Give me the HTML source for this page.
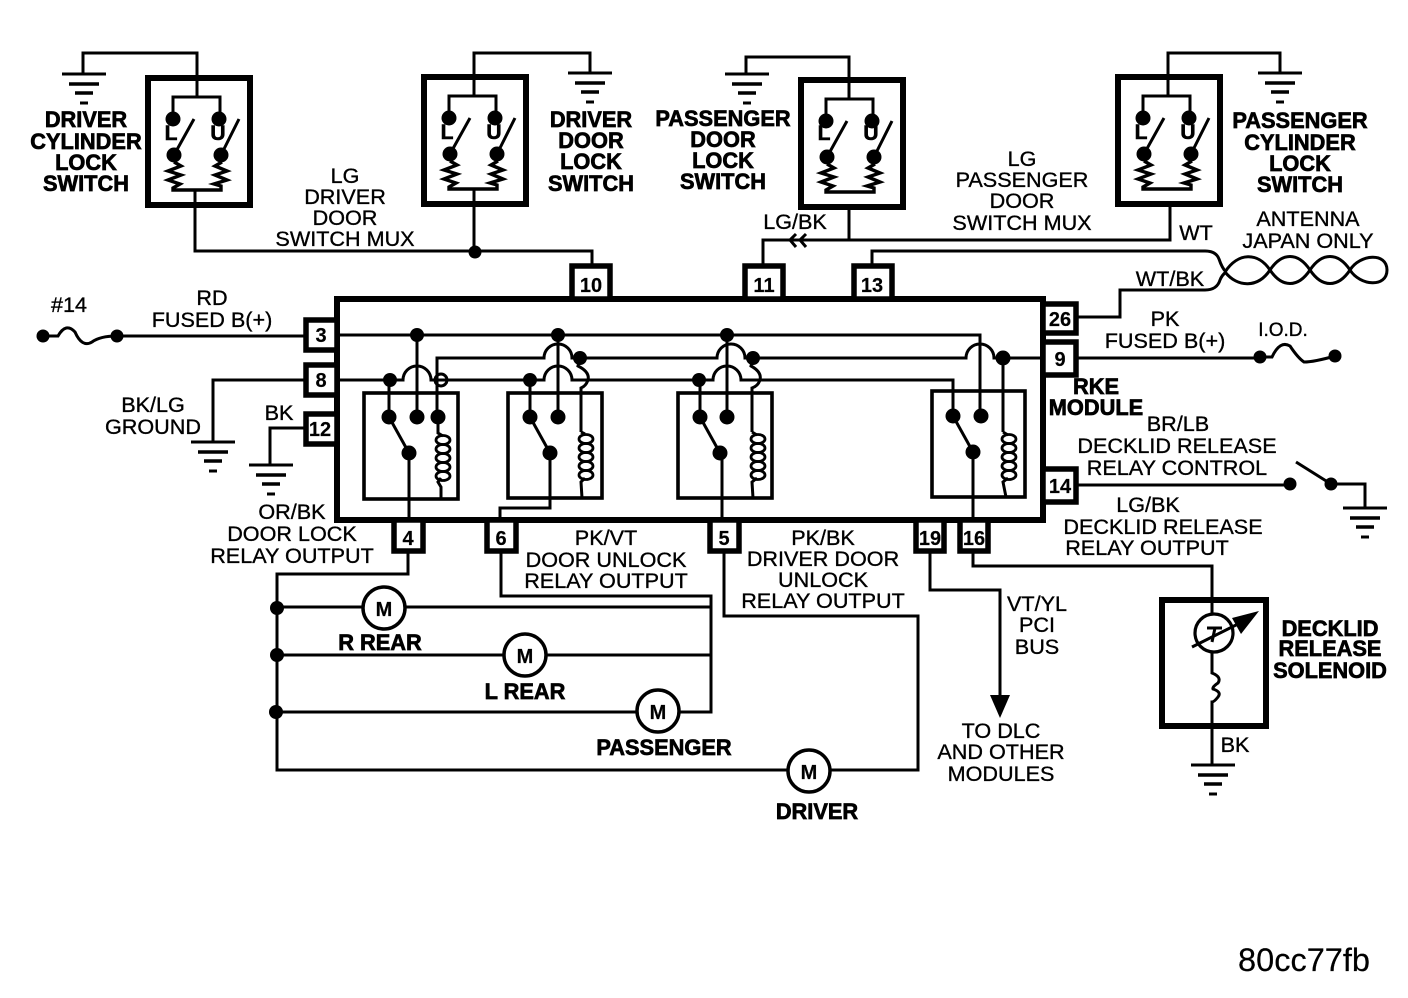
<!DOCTYPE html>
<html><head><meta charset="utf-8"><style>
html,body{margin:0;padding:0;background:#fff;width:1408px;height:998px;overflow:hidden}
svg{display:block}
text{font-family:"Liberation Sans",sans-serif;fill:#000;text-anchor:middle;font-size:21.6px;stroke:#000;stroke-width:.35px}
.b{font-weight:bold;font-size:21.8px;stroke-width:.7px}
.n{font-weight:bold;font-size:20px;stroke-width:.2px}
.lu{font-weight:bold;font-size:21px;stroke-width:.6px}
.w{fill:none;stroke:#000;stroke-width:3;stroke-linejoin:miter}
.t{fill:none;stroke:#000;stroke-width:6}
.r{fill:none;stroke:#000;stroke-width:3.6}
circle.d{fill:#000}
</style></head><body>
<svg width="1408" height="998" viewBox="0 0 1408 998" xmlns="http://www.w3.org/2000/svg">
<defs>
<g id="gnd"><path d="M-22 0H22" stroke="#000" stroke-width="3"/><path d="M-15 10H15" stroke="#000" stroke-width="3.4"/><path d="M-9 19H9" stroke="#000" stroke-width="3.4"/><path d="M-4 29H4" stroke="#000" stroke-width="3"/></g>
<g id="sw">
<rect x="0" y="0" width="102" height="127" class="t"/>
<path class="w" d="M25 34V19H72V34"/>
<circle class="d" cx="25" cy="41" r="7.5"/><circle class="d" cx="71" cy="41" r="7.5"/>
<circle class="d" cx="26" cy="77" r="7.5"/><circle class="d" cx="73" cy="77" r="7.5"/>
<path class="w" d="M26 77L46 41M73 77L91 41"/>
<path d="M26 84L33 88L20 93L33 97L20 102L32 106L25 110V112H73V108L66 106L79 102L67 97L79 93L67 88L74 84" fill="none" stroke="#000" stroke-width="3.4"/>
</g>
<g id="coil" fill="none" stroke="#000" stroke-width="2.8">
<ellipse cx="0" cy="4" rx="7" ry="4.5"/><ellipse cx="0" cy="13" rx="7" ry="4.5"/><ellipse cx="0" cy="22" rx="7" ry="4.5"/><ellipse cx="0" cy="31" rx="7" ry="4.5"/><ellipse cx="0" cy="40" rx="7" ry="4.5"/>
</g>
<g id="relay">
<circle class="d" cx="0" cy="0" r="7.5"/><circle class="d" cx="20" cy="36" r="7.5"/>
<path class="w" d="M0 0L20 36"/>
</g>
</defs>

<!-- switches -->
<use href="#sw" x="148" y="78"/><use href="#sw" x="424" y="77"/><use href="#sw" x="801" y="80"/><use href="#sw" x="1118" y="77"/>
<text class="lu" x="171" y="140">L</text><text class="lu" x="218" y="140">U</text>
<text class="lu" x="447" y="139">L</text><text class="lu" x="494" y="139">U</text>
<text class="lu" x="824" y="140">L</text><text class="lu" x="871" y="140">U</text>
<text class="lu" x="1141" y="139">L</text><text class="lu" x="1188" y="139">U</text>

<!-- ground wires top -->
<path class="w" d="M83 74V53H197V97"/><use href="#gnd" x="84" y="74"/>
<path class="w" d="M474 96V53H590V73"/><use href="#gnd" x="590" y="73"/>
<path class="w" d="M849 99V57H746V74"/><use href="#gnd" x="747" y="74"/>
<path class="w" d="M1168 96V53H1280V73"/><use href="#gnd" x="1280" y="73"/>

<!-- top wires -->
<path class="w" d="M195 190V251H592V265"/>
<path class="w" d="M474 189V251"/><circle class="d" cx="475" cy="252" r="6.5"/>
<path class="w" d="M849 204V241"/>
<path class="w" d="M1170 204V240H763V266"/>
<path class="w" d="M796 234L790 240L796 247M806 234L800 240L806 247"/>
<path class="w" d="M872 266V251H1205Q1216 251 1219 259Q1222 268 1226 272"/>
<path class="w" d="M1078 317H1120V290H1205Q1217 290 1220 280Q1222 275 1226 272"/>
<!-- antenna -->
<path class="w" d="M1225 272C1238 252 1258 252 1270 270C1282 288 1298 288 1310 270C1322 252 1338 252 1350 270C1360 286 1387 288 1387 270C1387 252 1360 254 1350 270C1338 288 1322 288 1310 270C1298 252 1282 252 1270 270C1258 288 1238 288 1225 272"/>

<!-- module -->
<rect x="337" y="299" width="706" height="221" class="t"/>

<!-- connector boxes -->
<g fill="#fff" stroke="#000" stroke-width="5.5">
<rect x="572" y="266" width="38" height="33"/><rect x="745" y="266" width="38" height="33"/><rect x="854" y="266" width="38" height="33"/>
<rect x="306" y="320" width="31" height="30"/><rect x="306" y="365" width="31" height="30"/><rect x="306" y="414" width="31" height="30"/>
<rect x="1043" y="304" width="33" height="29"/><rect x="1043" y="342" width="33" height="33"/><rect x="1043" y="469" width="33" height="33"/>
<rect x="394" y="520" width="29" height="31"/><rect x="487" y="520" width="29" height="31"/><rect x="710" y="520" width="29" height="31"/><rect x="916" y="520" width="28" height="31"/><rect x="960" y="520" width="28" height="31"/>
</g>
<g>
<text class="n" x="591" y="292">10</text><text class="n" x="764" y="292">11</text><text class="n" x="872" y="292">13</text>
<text class="n" x="321" y="342">3</text><text class="n" x="321" y="387">8</text><text class="n" x="320" y="436">12</text>
<text class="n" x="1060" y="326">26</text><text class="n" x="1060" y="366">9</text><text class="n" x="1060" y="493">14</text>
<text class="n" x="408" y="545">4</text><text class="n" x="501" y="545">6</text><text class="n" x="724" y="545">5</text><text class="n" x="930" y="545">19</text><text class="n" x="974" y="545">16</text>
</g>

<!-- relay boxes -->
<rect x="364" y="393" width="94" height="106" class="r"/>
<rect x="508" y="393" width="94" height="105" class="r"/>
<rect x="678" y="393" width="94" height="105" class="r"/>
<rect x="932" y="391" width="93" height="106" class="r"/>

<!-- inner rails -->
<path class="w" d="M337 335H980V416"/>
<circle class="d" cx="417" cy="335" r="7"/><circle class="d" cx="558" cy="335" r="7"/><circle class="d" cx="727" cy="335" r="7"/>
<path class="w" d="M417 335V417M558 335V417M727 335V417"/>
<path class="w" d="M1043 358H994A14 14 0 0 0 966 358H745A14 14 0 0 0 717 358H572A14 14 0 0 0 544 358H437V417"/>
<path class="w" d="M1003 358V432"/>
<circle class="d" cx="1003" cy="358" r="7.5"/>
<circle class="d" cx="753" cy="358" r="7"/><circle class="d" cx="580" cy="358" r="7"/>
<path class="w" d="M337 380H403A14 14 0 0 1 431 380H530M530 380H544A14 14 0 0 1 572 380H699M699 380H713A14 14 0 0 1 741 380H953V416"/>
<circle cx="441" cy="380" r="6" class="w"/>
<circle class="d" cx="390" cy="380" r="7"/><circle class="d" cx="530" cy="380" r="7"/><circle class="d" cx="699" cy="380" r="7"/>
<path class="w" d="M389 380V417M530 380V417M700 380V417"/>
<path class="w" d="M580 358L578 366Q590 372 588 380Q586 386 581 388V432"/>
<path class="w" d="M753 358L751 366Q762 372 760 380Q758 386 752 388V432"/>

<!-- relay contents -->
<use href="#relay" x="389" y="417"/><circle class="d" cx="417" cy="417" r="7.5"/><circle class="d" cx="438" cy="417" r="7.5"/>
<use href="#relay" x="530" y="417"/><circle class="d" cx="558" cy="417" r="7.5"/>
<use href="#relay" x="700" y="417"/><circle class="d" cx="727" cy="417" r="7.5"/>
<use href="#relay" x="953" y="416"/><circle class="d" cx="981" cy="416" r="7.5"/>
<path class="w" d="M409 453V522"/>
<path class="w" d="M550 453V508H500V522"/>
<path class="w" d="M722 453V522"/>
<path class="w" d="M973 453V522"/>
<path class="w" d="M438 417V433L443 436M441 478L438 482L441 487V499"/>
<use href="#coil" x="443" y="436"/>
<path class="w" d="M581 432L585 434M585 478L581 482L582 498"/>
<use href="#coil" x="586" y="435"/>
<path class="w" d="M752 432L757 435M757 478L752 482L753 498"/>
<use href="#coil" x="758" y="435"/>
<path class="w" d="M1003 432L1008 435M1008 478L1003 482L1006 497"/>
<use href="#coil" x="1009" y="435"/>

<!-- lower wires -->
<path class="w" d="M408 553V574H277V770H788M830 770H918V616H724V553"/>
<circle class="d" cx="277" cy="608" r="7"/><circle class="d" cx="277" cy="655" r="7"/><circle class="d" cx="276" cy="712" r="7"/>
<path class="w" d="M501 553V596H711V712H678M638 712H277M277 607H363M405 607H711M277 655H503M547 655H711"/>
<g fill="#fff" stroke="#000" stroke-width="3.5">
<circle cx="384" cy="608" r="21"/><circle cx="525" cy="655" r="21"/><circle cx="658" cy="711" r="21"/><circle cx="809" cy="771" r="21"/>
</g>
<text class="n" x="384" y="616">M</text><text class="n" x="525" y="663">M</text><text class="n" x="658" y="719">M</text><text class="n" x="809" y="779">M</text>
<path class="w" d="M930 553V590H1000V697"/>
<path d="M990 695H1010L1000 718Z" fill="#000"/>
<path class="w" d="M973 553V566H1212V614"/>

<!-- solenoid -->
<rect x="1162" y="600" width="104" height="126" class="t"/>
<circle cx="1214" cy="633" r="19" fill="none" stroke="#000" stroke-width="3.2"/>
<path class="w" d="M1192 647L1240 623"/>
<path d="M1259 611L1232 618L1241 634Z" fill="#000"/>
<path d="M1207 628H1222M1215 628L1212 642" stroke="#000" stroke-width="3" fill="none"/>
<path class="w" d="M1212 652V673Q1222 677 1218 683Q1212 687 1213 689Q1222 692 1218 697Q1214 702 1212 702V765"/>
<use href="#gnd" x="1213" y="765"/>

<!-- left side -->
<path class="w" d="M117 336H306"/>
<circle class="d" cx="43" cy="336" r="6.5"/><circle class="d" cx="117" cy="336" r="6.5"/>
<path class="w" d="M43 336H58Q66 322 75 332Q82 348 92 342Q100 336 117 336"/>
<path class="w" d="M306 380H213V442"/><use href="#gnd" x="213" y="442"/>
<path class="w" d="M306 428H270V465"/><use href="#gnd" x="271" y="465"/>

<!-- right side -->
<path class="w" d="M1076 358H1260"/>
<circle class="d" cx="1260" cy="357" r="6.5"/><circle class="d" cx="1335" cy="356" r="6.5"/>
<path class="w" d="M1260 357H1272Q1280 340 1290 346Q1298 358 1304 362Q1314 362 1335 356"/>
<path class="w" d="M1076 485H1290M1331 484H1365V508"/>
<circle class="d" cx="1290" cy="484" r="6.5"/><circle class="d" cx="1331" cy="484" r="6.5"/>
<path class="w" d="M1331 484L1296 462"/>
<use href="#gnd" x="1365" y="508"/>

<!-- labels bold -->
<g>
<text class="b" x="86" y="127">DRIVER</text><text class="b" x="86" y="149">CYLINDER</text><text class="b" x="86" y="170">LOCK</text><text class="b" x="86" y="191">SWITCH</text>
<text class="b" x="591" y="127">DRIVER</text><text class="b" x="591" y="148">DOOR</text><text class="b" x="591" y="169">LOCK</text><text class="b" x="591" y="191">SWITCH</text>
<text class="b" x="723" y="126">PASSENGER</text><text class="b" x="723" y="147">DOOR</text><text class="b" x="723" y="168">LOCK</text><text class="b" x="723" y="189">SWITCH</text>
<text class="b" x="1300" y="128">PASSENGER</text><text class="b" x="1300" y="150">CYLINDER</text><text class="b" x="1300" y="171">LOCK</text><text class="b" x="1300" y="192">SWITCH</text>
<text class="b" x="1096" y="394">RKE</text><text class="b" x="1096" y="415">MODULE</text>
<text class="b" x="380" y="650">R REAR</text><text class="b" x="525" y="699">L REAR</text><text class="b" x="664" y="755">PASSENGER</text><text class="b" x="817" y="819">DRIVER</text>
<text class="b" x="1330" y="636">DECKLID</text><text class="b" x="1330" y="656">RELEASE</text><text class="b" x="1330" y="678">SOLENOID</text>
</g>
<!-- labels regular -->
<g>
<text x="345" y="183">LG</text><text x="345" y="204">DRIVER</text><text x="345" y="225">DOOR</text><text x="345" y="246">SWITCH MUX</text>
<text x="1022" y="166">LG</text><text x="1022" y="187">PASSENGER</text><text x="1022" y="208">DOOR</text><text x="1022" y="230">SWITCH MUX</text>
<text x="795" y="229">LG/BK</text><text x="1196" y="240">WT</text>
<text x="1308" y="226">ANTENNA</text><text x="1308" y="248">JAPAN ONLY</text>
<text x="1170" y="286">WT/BK</text>
<text x="1165" y="326">PK</text><text x="1165" y="348">FUSED B(+)</text>
<text x="1283" y="336" style="font-size:19px">I.O.D.</text>
<text x="1178" y="431">BR/LB</text><text x="1177" y="453">DECKLID RELEASE</text><text x="1177" y="475">RELAY CONTROL</text>
<text x="1148" y="512">LG/BK</text><text x="1163" y="534">DECKLID RELEASE</text><text x="1147" y="555">RELAY OUTPUT</text>
<text x="69" y="312">#14</text>
<text x="212" y="305">RD</text><text x="212" y="327">FUSED B(+)</text>
<text x="153" y="412">BK/LG</text><text x="153" y="434">GROUND</text>
<text x="279" y="420">BK</text>
<text x="292" y="519">OR/BK</text><text x="292" y="541">DOOR LOCK</text><text x="292" y="563">RELAY OUTPUT</text>
<text x="606" y="545">PK/VT</text><text x="606" y="567">DOOR UNLOCK</text><text x="606" y="588">RELAY OUTPUT</text>
<text x="823" y="545">PK/BK</text><text x="823" y="566">DRIVER DOOR</text><text x="823" y="587">UNLOCK</text><text x="823" y="608">RELAY OUTPUT</text>
<text x="1037" y="611">VT/YL</text><text x="1037" y="632">PCI</text><text x="1037" y="654">BUS</text>
<text x="1001" y="738">TO DLC</text><text x="1001" y="759">AND OTHER</text><text x="1001" y="781">MODULES</text>
<text x="1235" y="752">BK</text>
<text x="1304" y="971" style="font-size:32.5px;stroke-width:.2px">80cc77fb</text>
</g>
</svg>
</body></html>
